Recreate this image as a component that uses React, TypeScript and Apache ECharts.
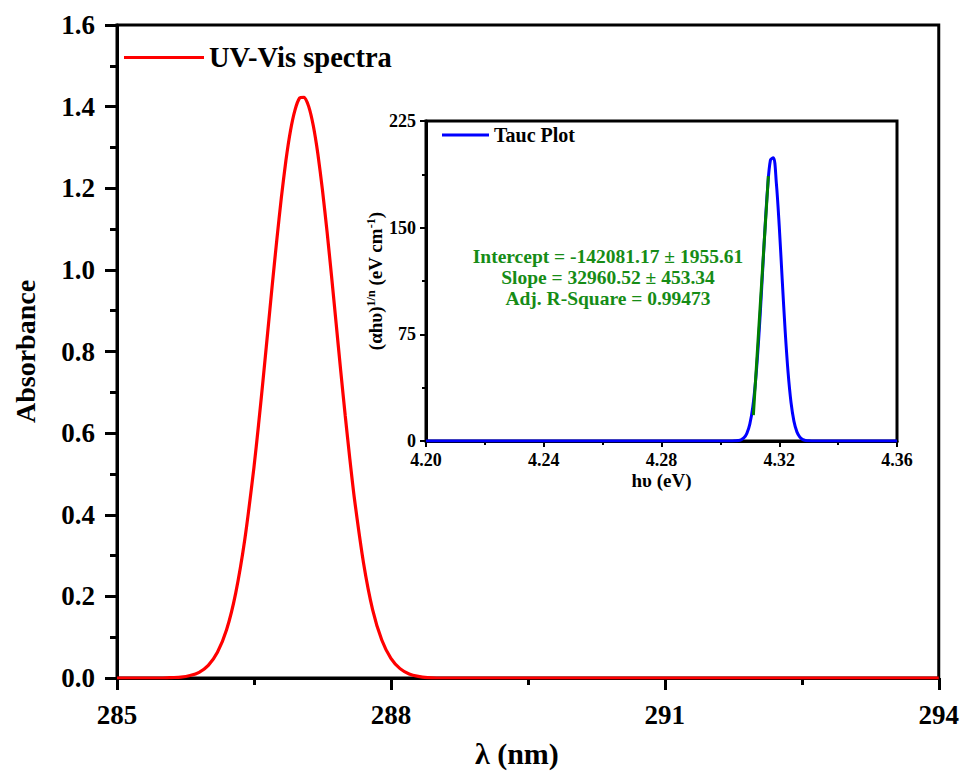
import React, { useEffect, useRef } from "react";
import * as echarts from "echarts";

// Main UV-Vis spectrum (wavelength nm, absorbance)
const uvWavelength = [285.0, 285.5, 285.6, 285.7, 285.8, 285.9, 286.0, 286.1, 286.2, 286.3, 286.4, 286.5, 286.55, 286.6, 286.65, 286.7, 286.75, 286.8, 286.85, 286.9, 286.95, 287.0, 287.05, 287.1, 287.15, 287.2, 287.25, 287.3, 287.35, 287.4, 287.45, 287.5, 287.55, 287.6, 287.7, 287.8, 287.9, 288.0, 288.1, 288.2, 288.3, 288.4, 288.5, 288.6, 294.0];
const uvAbsorbance = [0, 0, 0.001, 0.002, 0.006, 0.014, 0.031, 0.063, 0.118, 0.208, 0.34, 0.516, 0.62, 0.731, 0.846, 0.962, 1.073, 1.177, 1.268, 1.341, 1.392, 1.421, 1.423, 1.4, 1.353, 1.284, 1.196, 1.095, 0.984, 0.869, 0.753, 0.642, 0.537, 0.44, 0.282, 0.167, 0.093, 0.048, 0.023, 0.01, 0.004, 0.001, 0, 0, 0];

// Tauc plot (photon energy eV, (αhυ)^(1/n))
const taucEnergy = [4.2, 4.3, 4.304, 4.305, 4.306, 4.307, 4.308, 4.309, 4.31, 4.311, 4.312, 4.313, 4.314, 4.315, 4.316, 4.317, 4.318, 4.319, 4.32, 4.321, 4.322, 4.323, 4.324, 4.325, 4.326, 4.327, 4.328, 4.329, 4.33, 4.331, 4.332, 4.36];
const taucValue = [0, 0, 0, 0.1, 0.3, 0.8, 2.2, 5.4, 11.9, 23.8, 43.3, 71.2, 106.2, 143.8, 176.5, 197.5, 199.2, 181.7, 151.0, 113.7, 77.7, 48.2, 27.1, 13.8, 6.4, 2.7, 1.0, 0.35, 0.1, 0, 0, 0];

// Linear fit segment
const fitEnergy = [4.3112, 4.3163];
const fitValue = [18.2, 186.3];

const fitLines = [
  "Intercept = -142081.17 ± 1955.61",
  "Slope = 32960.52 ± 453.34",
  "Adj. R-Square = 0.99473",
];

const mainXTicks = [285, 288, 291, 294];
const mainYTicks = [0, 0.2, 0.4, 0.6, 0.8, 1.0, 1.2, 1.4, 1.6];
const insetXTicks = [4.2, 4.24, 4.28, 4.32, 4.36];
const insetYTicks = [0, 75, 150, 225];

const FONT = "'Liberation Serif', 'Times New Roman', serif";

export default function App() {
  const ref = useRef<HTMLDivElement>(null);
  useEffect(() => {
    if (!ref.current) return;
    const chart = echarts.init(ref.current, null, { renderer: "svg" });
    const uvData = uvWavelength.map((x, i) => [x, uvAbsorbance[i]]);
    const taucData = taucEnergy.map((x, i) => [x, taucValue[i]]);
    const fitData = fitEnergy.map((x, i) => [x, fitValue[i]]);
    const axisLine = { lineStyle: { color: "#000", width: 3 } };
    const mainLabel = { color: "#000", fontFamily: FONT, fontWeight: "bold" as const, fontSize: 27 };
    const insetLabel = { color: "#000", fontFamily: FONT, fontWeight: "bold" as const, fontSize: 18 };

    chart.setOption({
      animation: false,
      backgroundColor: "#fff",
      grid: [
        { left: 117, top: 25, width: 823, height: 661, show: true, borderColor: "#000", borderWidth: 3, backgroundColor: "transparent" },
        { left: 426, top: 121, width: 471, height: 320, show: true, borderColor: "#000", borderWidth: 3, backgroundColor: "transparent" },
      ],
      legend: [
        {
          data: ["UV-Vis spectra"],
          left: 119,
          top: 38,
          icon: "rect",
          itemWidth: 80,
          itemHeight: 3,
          textStyle: { color: "#000", fontFamily: FONT, fontWeight: "bold", fontSize: 28.5 },
        },
        {
          data: ["Tauc Plot"],
          left: 437,
          top: 120,
          icon: "rect",
          itemWidth: 47,
          itemHeight: 3,
          textStyle: { color: "#000", fontFamily: FONT, fontWeight: "bold", fontSize: 20 },
        },
      ],
      xAxis: [
        {
          type: "value",
          gridIndex: 0,
          min: mainXTicks[0],
          max: mainXTicks[mainXTicks.length - 1],
          interval: 3,
          name: "λ (nm)",
          nameLocation: "middle",
          nameGap: 60,
          nameTextStyle: { color: "#000", fontFamily: FONT, fontWeight: "bold", fontSize: 30, padding: [0, 22, 0, 0] },
          axisLine,
          axisTick: { show: true, inside: false, length: 12, lineStyle: { color: "#000", width: 3 } },
          minorTick: { show: true, splitNumber: 2, length: 7, lineStyle: { color: "#000", width: 3 } },
          splitLine: { show: false },
          axisLabel: { ...mainLabel, margin: 23, formatter: (v: number) => String(Math.round(v)) },
        },
        {
          type: "value",
          gridIndex: 1,
          min: insetXTicks[0],
          max: insetXTicks[insetXTicks.length - 1],
          interval: 0.04,
          name: "hυ (eV)",
          nameLocation: "middle",
          nameGap: 30,
          nameTextStyle: { color: "#000", fontFamily: FONT, fontWeight: "bold", fontSize: 19 },
          axisLine,
          axisTick: { show: true, inside: false, length: 6, lineStyle: { color: "#000", width: 2 } },
          minorTick: { show: true, splitNumber: 2, length: 4, lineStyle: { color: "#000", width: 2 } },
          splitLine: { show: false },
          axisLabel: { ...insetLabel, margin: 10, formatter: (v: number) => v.toFixed(2) },
        },
      ],
      yAxis: [
        {
          type: "value",
          gridIndex: 0,
          min: mainYTicks[0],
          max: mainYTicks[mainYTicks.length - 1],
          interval: 0.2,
          name: "Absorbance",
          nameLocation: "middle",
          nameGap: 78,
          nameTextStyle: { color: "#000", fontFamily: FONT, fontWeight: "bold", fontSize: 28 },
          axisLine,
          axisTick: { show: true, inside: false, length: 12, lineStyle: { color: "#000", width: 3 } },
          minorTick: { show: true, splitNumber: 2, length: 7, lineStyle: { color: "#000", width: 3 } },
          splitLine: { show: false },
          axisLabel: { ...mainLabel, margin: 22, formatter: (v: number) => v.toFixed(1) },
        },
        {
          type: "value",
          gridIndex: 1,
          min: insetYTicks[0],
          max: insetYTicks[insetYTicks.length - 1],
          interval: 75,
          name: "{a|(αhυ)}{s|1/n}{a| (eV cm}{s|-1}{a|)}",
          nameLocation: "middle",
          nameGap: 31,
          nameTextStyle: {
            color: "#000",
            rich: {
              a: { fontFamily: FONT, fontWeight: "bold", fontSize: 19, color: "#000" },
              s: { fontFamily: FONT, fontWeight: "bold", fontSize: 12, color: "#000", verticalAlign: "top", padding: [0, 0, 10, 0] },
            },
          },
          axisLine,
          axisTick: { show: true, inside: false, length: 6, lineStyle: { color: "#000", width: 2 } },
          minorTick: { show: true, splitNumber: 2, length: 4, lineStyle: { color: "#000", width: 2 } },
          splitLine: { show: false },
          axisLabel: { ...insetLabel, margin: 10 },
        },
      ],
      graphic: [
        {
          type: "group",
          children: fitLines.map((t, i) => ({
            type: "text",
            x: 608,
            y: 256 + i * 21,
            style: {
              text: t,
              fill: "#168c16",
              font: `bold 19.5px ${FONT}`,
              textAlign: "center",
              textVerticalAlign: "middle",
            },
          })),
        },
      ],
      series: [
        {
          name: "UV-Vis spectra",
          type: "line",
          xAxisIndex: 0,
          yAxisIndex: 0,
          data: uvData,
          showSymbol: false,
          smooth: 0.2,
          lineStyle: { color: "#ff0000", width: 3.2 },
          itemStyle: { color: "#ff0000" },
        },
        {
          name: "Tauc Plot",
          type: "line",
          xAxisIndex: 1,
          yAxisIndex: 1,
          data: taucData,
          showSymbol: false,
          smooth: 0.35,
          lineStyle: { color: "#0000ff", width: 3 },
          itemStyle: { color: "#0000ff" },
        },
        {
          name: "Linear Fit",
          type: "line",
          xAxisIndex: 1,
          yAxisIndex: 1,
          data: fitData,
          showSymbol: false,
          lineStyle: { color: "#008000", width: 3 },
          itemStyle: { color: "#008000" },
          z: 3,
        },
      ],
    });
    return () => chart.dispose();
  }, []);
  return <div ref={ref} style={{ width: 962, height: 773, position: "absolute", left: 0, top: 0 }} />;
}
